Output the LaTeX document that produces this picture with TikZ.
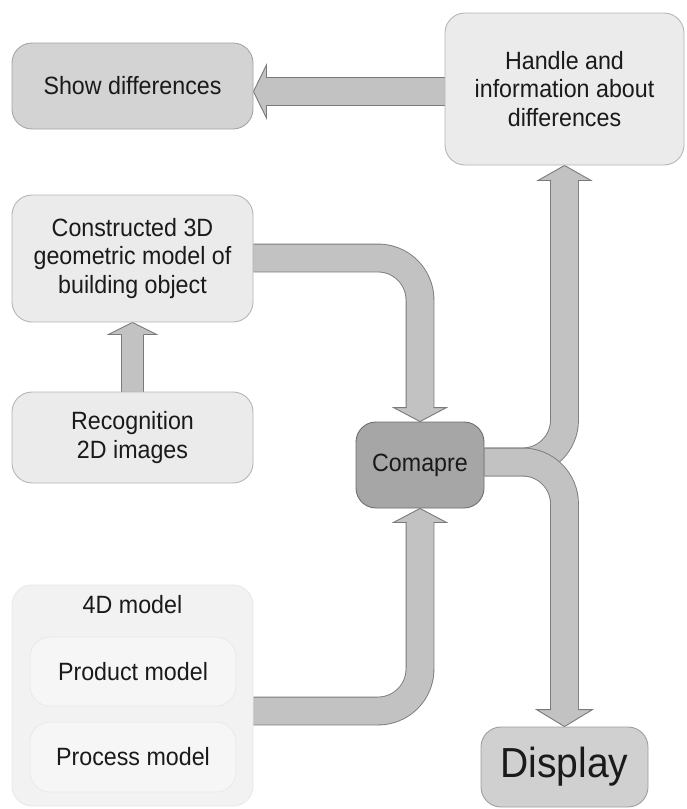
\documentclass[tikz,border=0pt]{standalone}
\usepackage{fontspec}
\setmainfont{Liberation Sans}[FakeStretch=0.93]
\usetikzlibrary{calc,backgrounds}
\definecolor{boxfill}{HTML}{EBEBEB}
\definecolor{boxedge}{HTML}{B5B5B5}
\definecolor{showfill}{HTML}{D3D3D3}
\definecolor{showedge}{HTML}{A5A5A5}
\definecolor{compfill}{HTML}{A6A6A6}
\definecolor{compedge}{HTML}{6E6E6E}
\definecolor{dispfill}{HTML}{D0D0D0}
\definecolor{dispedge}{HTML}{9E9E9E}
\definecolor{arrowfill}{HTML}{C2C2C2}
\definecolor{arrowedge}{HTML}{7A7A7A}
\definecolor{outerfill}{HTML}{F2F2F2}
\definecolor{outeredge}{HTML}{E8E8E8}
\definecolor{innerfill}{HTML}{F6F6F6}
\definecolor{inneredge}{HTML}{EAEAEA}
\definecolor{txt}{HTML}{1A1A1A}
\tikzset{
  box/.style={draw=boxedge, fill=boxfill, line width=0.9pt, rounded corners=20pt,
    align=center, text=txt, inner sep=0pt, font=\fontsize{25}{28.8}\selectfont},
  shaft/.style={draw=arrowedge, line width=0.9pt, double=arrowfill, double distance=27pt,
    rounded corners=42pt},
}
\newcommand\fathead[5]{%
  \begin{scope}[shift={#1}, rotate=#2]
    \fill[arrowfill] (0,0) -- (-#3,-#4) -- (#3,-#4) -- cycle;
    \draw[arrowedge, line width=0.9pt, line join=miter] (-#5,-#4) -- (-#3,-#4) -- (0,0) -- (#3,-#4) -- (#5,-#4);
  \end{scope}}
\begin{document}
\begin{tikzpicture}[x=1pt,y=-1pt]
\useasboundingbox (0,0) rectangle (687,809);
% boxes
\node[box, fill=showfill, draw=showedge, minimum width=241pt, minimum height=86pt] (show) at (132.5,86) {Show differences};
\node[box, minimum width=239pt, minimum height=152pt] (handle) at (564.5,89) {Handle and\\information about\\differences};
\node[box, minimum width=241pt, minimum height=127pt] (cons) at (132.5,258.5) {Constructed 3D\\geometric model of\\building object};
\node[box, minimum width=241pt, minimum height=91pt] (recog) at (132.5,437.5) {Recognition\\2D images};
\node[box, fill=compfill, draw=compedge, minimum width=128pt, minimum height=86pt] (comp) at (420,465) {Comapre};
\node[box, fill=dispfill, draw=dispedge, minimum width=167pt, minimum height=80pt, font=\fontsize{42}{46}\selectfont] (display) at (564.5,767) {Display};
\node[box, fill=outerfill, draw=outeredge, minimum width=241pt, minimum height=221pt] (fourD) at (132.5,695.5) {};
\node[text=txt, font=\fontsize{25}{28.8}\selectfont] (fourDlabel) at (132.5,605) {4D model};
\node[box, fill=innerfill, draw=inneredge, minimum width=206pt, minimum height=69pt] (product) at (133,671.5) {Product model};
\node[box, fill=innerfill, draw=inneredge, minimum width=206pt, minimum height=70pt] (process) at (133,757) {Process model};
% arrows
\begin{scope}[on background layer]
\draw[shaft] ($(handle.west)+(0,2.5)$) -- ($(show.east)+(12,5.5)$);
\fathead{($(show.east)+(0,5.5)$)}{-90}{26.5}{13}{13.5}
\draw[shaft, double distance=21.5pt] (recog.north) -- ($(cons.south)+(0,11)$);
\fathead{(cons.south)}{180}{24}{12}{11.5}
\draw[shaft] ($(cons.east)+(0,-0.5)$) -| ($(comp.north)+(0,-13)$);
\fathead{(comp.north)}{0}{26.5}{14}{13.5}
\draw[shaft] ($(fourD.east)+(0,15.5)$) -| ($(comp.south)+(0,13)$);
\fathead{(comp.south)}{180}{26.5}{14}{13.5}
\draw[shaft] ($(comp.east)+(0,-3)$) -| ($(handle.south)+(0,14)$);
\fathead{(handle.south)}{180}{26.5}{15}{13.5}
\draw[shaft] ($(comp.east)+(0,-3)$) -| ($(display.north)+(0,-16)$);
\fathead{(display.north)}{0}{28}{17}{13.5}
\end{scope}
\end{tikzpicture}
\end{document}
